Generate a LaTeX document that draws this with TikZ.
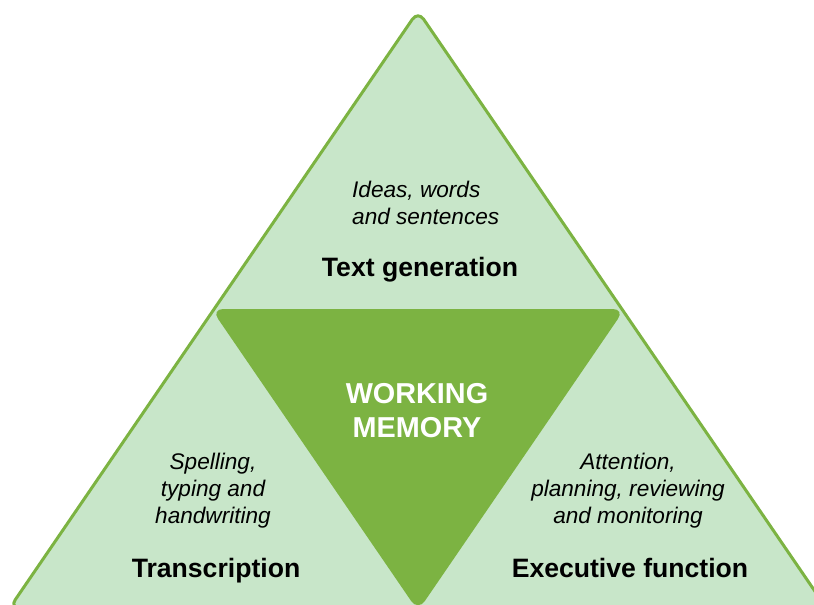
\documentclass[tikz,border=0pt]{standalone}
\usepackage{fontspec}
\setmainfont{Liberation Sans}
\definecolor{lightgreen}{HTML}{C8E6C9}
\definecolor{midgreen}{HTML}{7CB342}
\begin{document}
\begin{tikzpicture}[x=1pt,y=-1pt,
  subtxt/.style={font=\fontsize{22.6}{26.7}\selectfont\itshape, inner sep=0pt, anchor=base, align=center},
  headtxt/.style={font=\fontsize{26.6}{31}\selectfont\bfseries, inner sep=0pt, anchor=base},
  coretxt/.style={font=\fontsize{28.8}{34}\selectfont\bfseries, text=white, inner sep=0pt, anchor=base, align=center},
  outertri/.style={fill=lightgreen, draw=midgreen, line width=3pt, rounded corners=10pt, line join=round},
  innertri/.style={fill=midgreen, rounded corners=12pt}]
\useasboundingbox (0,0) rectangle (814,605);
\clip (0,0) rectangle (814,605);
\draw[outertri] (418,11) -- (826.4,608) -- (9.6,608) -- cycle;
\fill[innertri] (211.3,309) -- (624.7,309) -- (418,611) -- cycle;
\node[subtxt, align=left, anchor=base west] (tgdesc) at (352,224) {Ideas, words\\and sentences};
\node[headtxt] (tg) at (420,276) {Text generation};
\node[coretxt] (wm) at (417,437) {WORKING\\MEMORY};
\node[subtxt] (trdesc) at (213,523) {Spelling,\\typing and\\handwriting};
\node[headtxt] (tr) at (216,577) {Transcription};
\node[subtxt] (efdesc) at (628,523) {Attention,\\planning, reviewing\\and monitoring};
\node[headtxt] (ef) at (630,577) {Executive function};
\end{tikzpicture}
\end{document}
